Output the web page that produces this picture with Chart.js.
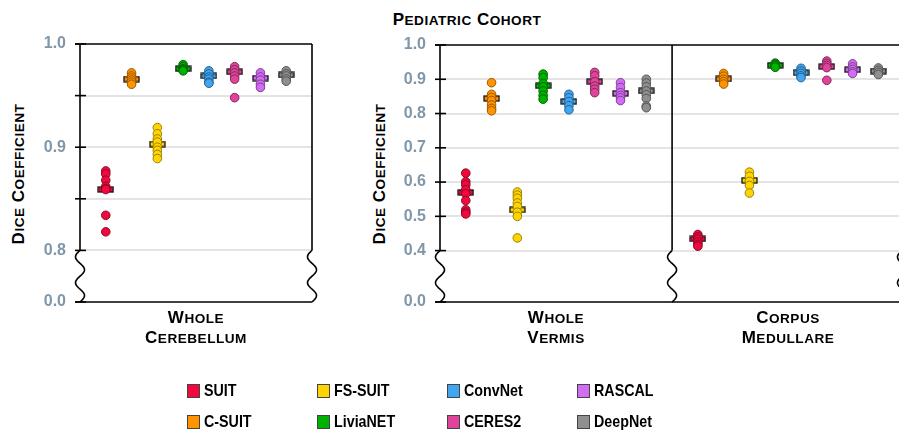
<!DOCTYPE html>
<html>
<head>
    <script src="https://cdn.jsdelivr.net/npm/chart.js@4.4.1/dist/chart.umd.min.js"></script>
</head>
<body>
    <div class="title caps" style="left: 367px; top: 10px;">Pediatric Cohort</div>
    <div class="ytitle caps" style="left: 19px;">Dice Coefficient</div>
    <div class="ytitle caps" style="left: 380px;">Dice Coefficient</div>
    <canvas id="left" width="330" height="431" style="left: 0px;"></canvas>
    <canvas id="right" width="559" height="431" style="left: 340px;"></canvas>
    <div class="cat caps" style="left: 96px;">Whole<br>Cerebellum</div>
    <div class="cat caps" style="left: 456px;">Whole<br>Vermis</div>
    <div class="cat caps" style="left: 688px;">Corpus<br>Medullare</div>
    <div id="legend"></div>
</body>
</html>

<script>
    const methods = ['SUIT', 'C-SUIT', 'FS-SUIT', 'LiviaNET', 'ConvNet', 'CERES2', 'RASCAL', 'DeepNet'];
    const fills = ['#f2073f', '#ff9300', '#ffd400', '#00b200', '#42a5f0', '#e0449a', '#d26cf4', '#8f8f8f'];
    const edges = ['#8a0a26', '#9a5800', '#9a7f00', '#006400', '#24628f', '#85285b', '#7d3f92', '#555555'];

    // one list per method, same order as methods
    const cerebellum = [
        [0.877, 0.874, 0.868, 0.862, 0.860, 0.859, 0.834, 0.818],
        [0.972, 0.969, 0.967, 0.965, 0.963, 0.961],
        [0.919, 0.913, 0.908, 0.905, 0.900, 0.897, 0.893, 0.889],
        [0.980, 0.978, 0.976, 0.975, 0.974],
        [0.974, 0.971, 0.968, 0.966, 0.963, 0.962],
        [0.978, 0.975, 0.972, 0.969, 0.966, 0.948],
        [0.972, 0.968, 0.965, 0.961, 0.958],
        [0.974, 0.971, 0.969, 0.966, 0.964]
    ];
    const cerebellumMedian = [0.859, 0.966, 0.903, 0.976, 0.969, 0.973, 0.967, 0.970];

    const vermis = [
        [0.626, 0.601, 0.592, 0.578, 0.566, 0.546, 0.519, 0.512, 0.507],
        [0.890, 0.856, 0.847, 0.838, 0.825, 0.815, 0.808],
        [0.571, 0.562, 0.553, 0.539, 0.529, 0.512, 0.500, 0.437],
        [0.915, 0.905, 0.888, 0.878, 0.866, 0.853, 0.842],
        [0.856, 0.846, 0.835, 0.823, 0.811],
        [0.920, 0.910, 0.893, 0.880, 0.871, 0.861],
        [0.890, 0.876, 0.861, 0.853, 0.846, 0.838],
        [0.900, 0.889, 0.878, 0.866, 0.855, 0.844, 0.822, 0.817]
    ];
    const vermisMedian = [0.570, 0.844, 0.519, 0.881, 0.835, 0.893, 0.859, 0.866];

    const corpus = [
        [0.447, 0.440, 0.433, 0.425, 0.418, 0.413],
        [0.917, 0.909, 0.900, 0.893, 0.886],
        [0.629, 0.617, 0.602, 0.590, 0.568],
        [0.947, 0.943, 0.939, 0.935],
        [0.932, 0.924, 0.917, 0.910, 0.905],
        [0.953, 0.946, 0.940, 0.934, 0.897],
        [0.945, 0.936, 0.929, 0.922, 0.917],
        [0.933, 0.926, 0.920, 0.914]
    ];
    const corpusMedian = [0.434, 0.901, 0.605, 0.941, 0.919, 0.937, 0.928, 0.924];

    // tick values; the lowest one sits below the axis break and reads 0.0
    const leftTicks = [0.75, 0.8, 0.85, 0.9, 0.95, 1.0];
    const leftLabelled = [0.75, 0.8, 0.9, 1.0];
    const rightTicks = [0.25, 0.4, 0.5, 0.6, 0.7, 0.8, 0.9, 1.0];
    const rightLabelled = rightTicks;

    // fake small caps: first letter of each word full size, rest smaller uppercase
    document.querySelectorAll('.caps').forEach(el => {
        el.innerHTML = el.innerHTML.split('<br>').map(part =>
            part.split(' ').map(w => w[0] + '<span class="sc">' + w.slice(1) + '</span>').join(' ')
        ).join('<br>');
    });

    // median bar marker
    const medianBar = (color) => {
        const c = document.createElement('canvas');
        c.width = 17; c.height = 7;
        const g = c.getContext('2d');
        g.fillStyle = color;
        g.fillRect(1, 1, 15, 5);
        g.strokeStyle = '#111';
        g.lineWidth = 1.3;
        g.strokeRect(1, 1, 15, 5);
        return c;
    };

    const buildDatasets = (groups) => {
        const sets = [];
        methods.forEach((name, i) => {
            sets.push({
                label: name,
                data: groups.flatMap(g => g.pts[i].map(v => ({ x: g.offset + i + 1, y: v }))),
                backgroundColor: fills[i],
                borderColor: edges[i],
                borderWidth: 1,
                pointRadius: 4.3,
                order: 1
            });
            sets.push({
                label: name + ' median',
                data: groups.map(g => ({ x: g.offset + i + 1, y: g.med[i] })),
                pointStyle: medianBar(fills[i]),
                pointRadius: 1,
                order: 2
            });
        });
        return sets;
    };

    const wave = (ctx, x, y0, y1, amp) => {
        ctx.beginPath();
        for (let i = 0; i <= 60; i++) {
            const t = i / 60;
            const px = x - amp * Math.sin(t * Math.PI * 4);
            const py = y0 + (y1 - y0) * t;
            if (i === 0) ctx.moveTo(px, py); else ctx.lineTo(px, py);
        }
        ctx.stroke();
    };

    const line = (ctx, x0, y0, x1, y1) => {
        ctx.beginPath();
        ctx.moveTo(x0, y0);
        ctx.lineTo(x1, y1);
        ctx.stroke();
    };

    const framePlugin = {
        id: 'frame',
        beforeDatasetsDraw(chart, args, opts) {
            const { ctx, chartArea: a } = chart;
            const x = chart.scales.x, y = chart.scales.y;
            const yb = y.getPixelForValue(opts.breakAt);
            ctx.save();
            ctx.strokeStyle = '#000';
            ctx.lineWidth = 1.6;
            line(ctx, a.left - 5, a.top, a.right, a.top);
            line(ctx, a.left - 5, a.bottom, a.right, a.bottom);
            opts.walls.forEach(v => {
                const px = x.getPixelForValue(v);
                line(ctx, px, a.top, px, yb);
                wave(ctx, px, yb, a.bottom, 4.5);
            });
            if (opts.edgeWave) wave(ctx, a.right + 3, yb, a.bottom, 4.5);
            y.ticks.forEach(t => {
                const py = y.getPixelForValue(t.value);
                line(ctx, a.left - 5, py, a.left + 6, py);
            });
            ctx.restore();
        }
    };

    const makeChart = (id, groups, cfg) => new Chart(document.getElementById(id), {
        type: 'scatter',
        data: { datasets: buildDatasets(groups) },
        plugins: [framePlugin],
        options: {
            responsive: false,
            animation: false,
            events: [],
            layout: { autoPadding: false, padding: cfg.padding },
            plugins: {
                legend: { display: false },
                tooltip: { enabled: false },
                frame: { breakAt: cfg.breakAt, walls: cfg.walls, edgeWave: cfg.edgeWave }
            },
            scales: {
                x: { type: 'linear', display: false, min: 0, max: cfg.xMax },
                y: {
                    type: 'linear',
                    min: cfg.ticks[0],
                    max: 1.0,
                    afterFit: (scale) => { scale.width = cfg.axisWidth; },
                    afterBuildTicks: (scale) => { scale.ticks = cfg.ticks.map(v => ({ value: v })); },
                    border: { display: false },
                    grid: {
                        drawTicks: false,
                        lineWidth: 2,
                        color: (c) => (c.tick && c.tick.value > cfg.ticks[0] + 0.01 && c.tick.value < 0.99) ? '#e4e4e4' : 'transparent'
                    },
                    ticks: {
                        padding: 14,
                        color: '#7f97a9',
                        font: { family: "'Liberation Sans', Arial, sans-serif", size: 16, weight: 'bold' },
                        callback: (v) => {
                            if (Math.abs(v - cfg.ticks[0]) < 1e-6) return '0.0';
                            return cfg.labelled.some(l => Math.abs(l - v) < 1e-6) ? v.toFixed(1) : '';
                        }
                    }
                }
            }
        }
    });

    makeChart('left', [{ offset: 0, pts: cerebellum, med: cerebellumMedian }], {
        padding: { left: 0, right: 18, top: 44, bottom: 129 },
        axisWidth: 80, xMax: 9, breakAt: 0.8, walls: [0, 9], edgeWave: false,
        ticks: leftTicks, labelled: leftLabelled
    });

    makeChart('right', [
        { offset: 0, pts: vermis, med: vermisMedian },
        { offset: 9, pts: corpus, med: corpusMedian }
    ], {
        padding: { left: 0, right: 0, top: 45, bottom: 129 },
        axisWidth: 100, xMax: 17.8, breakAt: 0.4, walls: [0, 9], edgeWave: true,
        ticks: rightTicks, labelled: rightLabelled
    });

    // legend, two rows filled column by column
    const legend = document.getElementById('legend');
    methods.forEach((name, i) => {
        const item = document.createElement('div');
        item.className = 'item';
        const box = document.createElement('span');
        box.className = 'box';
        box.style.background = fills[i];
        const text = document.createElement('span');
        text.className = 'label';
        text.textContent = name;
        item.appendChild(box);
        item.appendChild(text);
        legend.appendChild(item);
    });
</script>

<style>
body {
    margin: 0;
    width: 899px;
    height: 431px;
    position: relative;
    overflow: hidden;
    background: #fff;
    font-family: 'Liberation Sans', Arial, sans-serif;
}
canvas {
    position: absolute;
    top: 0;
}
.caps {
    font-weight: bold;
    font-size: 17px;
    letter-spacing: 0.5px;
    color: #000;
}
.sc {
    font-size: 13.6px;
    text-transform: uppercase;
}
.title {
    position: absolute;
    width: 200px;
    text-align: center;
    line-height: 20px;
}
.ytitle {
    position: absolute;
    top: 174px;
    transform: translate(-50%, -50%) rotate(-90deg);
    white-space: nowrap;
    line-height: 20px;
}
.cat {
    position: absolute;
    top: 308px;
    width: 200px;
    text-align: center;
    line-height: 19px;
}
#legend {
    position: absolute;
    left: 187px;
    top: 375px;
    display: grid;
    grid-auto-flow: column;
    grid-template-rows: 31px 31px;
    grid-auto-columns: 130px;
}
.item {
    display: flex;
    align-items: center;
    font-weight: bold;
    font-size: 17px;
}
.label {
    display: inline-block;
    transform: scaleX(0.84);
    transform-origin: left center;
}
.box {
    display: inline-block;
    width: 11px;
    height: 12px;
    border: 1.5px solid #444;
    margin-right: 4px;
}
</style>
